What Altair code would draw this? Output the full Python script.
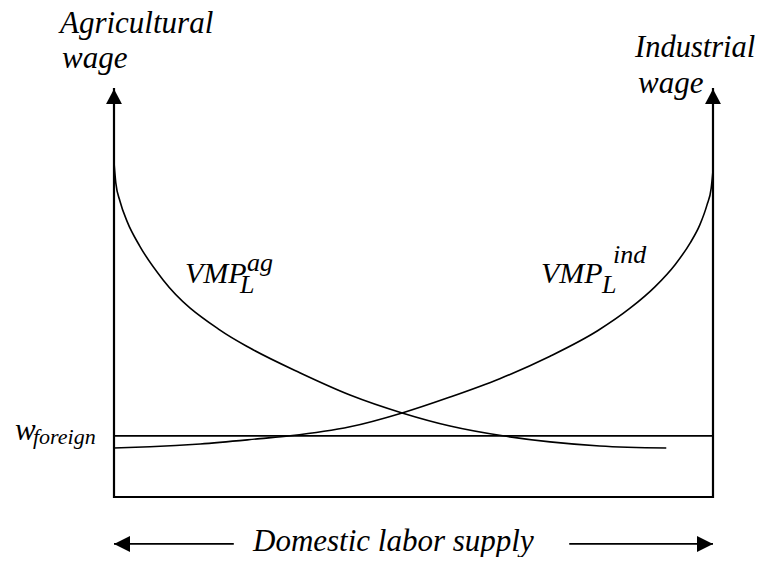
import altair as alt
import pandas as pd

# Curve data (labor share 0..100 on x, wage 0..100 on y)
ag_labor = [0, 0.3, 1.0, 2.2, 4.3, 8.2, 17.7, 22.7, 31.1, 39.4, 48.1, 56.1, 64.9, 72.8, 81.1, 92.2]
ag_wage = [82, 77, 72.5, 67.5, 61.5, 53.2, 40.9, 36.5, 30.4, 25.0, 20.6, 17.4, 15.0, 13.5, 12.5, 12.0]

ind_labor = [0, 6.0, 14.4, 24.4, 29.4, 39.4, 48.1, 56.1, 64.4, 72.8, 80.8, 86.1, 90.3, 93.7, 96.2, 97.8, 99.0, 99.7, 100]
ind_wage = [12.0, 12.3, 13.0, 14.3, 15.0, 17.2, 20.6, 24.5, 29.0, 34.5, 40.8, 46.2, 51.5, 57.0, 62.3, 66.7, 71.6, 75.7, 80.0]

w_foreign = 15.0
axis_top = 100
labor_min, labor_max = 0, 100
bottom_arrow_y = -11.5
left_arrow_end = 20.0
right_arrow_start = 76.0

W, H = 749, 549
xs = alt.Scale(domain=[-17.696, 107.346], nice=False, zero=False)
ys = alt.Scale(domain=[-14.71, 119.85], nice=False, zero=False)
X = lambda f: alt.X(f, type="quantitative", scale=xs, axis=None)
Y = lambda f: alt.Y(f, type="quantitative", scale=ys, axis=None)

ag_df = pd.DataFrame({"x": ag_labor, "y": ag_wage, "o": range(len(ag_labor))})
ind_df = pd.DataFrame({"x": ind_labor, "y": ind_wage, "o": range(len(ind_labor))})
frame_df = pd.DataFrame({"x": [labor_min, labor_min, labor_max, labor_max],
                         "y": [axis_top, 0, 0, axis_top], "o": [0, 1, 2, 3]})
wf_df = pd.DataFrame({"x": [labor_min, labor_max], "y": [w_foreign, w_foreign], "o": [0, 1]})
barrow_df = pd.DataFrame({"x": [labor_min, left_arrow_end, right_arrow_start, labor_max],
                          "y": [bottom_arrow_y] * 4, "g": ["l", "l", "r", "r"], "o": [0, 1, 2, 3]})

frame = alt.Chart(frame_df).mark_line(color="black", strokeWidth=2.2, strokeJoin="miter", strokeCap="square").encode(
    x=X("x"), y=Y("y"), order="o:Q")
ag = alt.Chart(ag_df).mark_line(color="black", strokeWidth=1.6, interpolate="monotone").encode(
    x=X("x"), y=Y("y"), order="o:Q")
ind = alt.Chart(ind_df).mark_line(color="black", strokeWidth=1.6, interpolate="monotone").encode(
    x=X("x"), y=Y("y"), order="o:Q")
wf = alt.Chart(wf_df).mark_line(color="black", strokeWidth=1.8).encode(
    x=X("x"), y=Y("y"), order="o:Q")
barrows = alt.Chart(barrow_df).mark_line(color="black", strokeWidth=1.6).encode(
    x=X("x"), y=Y("y"), detail="g:N", order="o:Q")

up_df = pd.DataFrame({"x": [labor_min, labor_max], "y": [axis_top, axis_top]})
heads_up = alt.Chart(up_df).mark_point(shape="M0,0L-0.53,1L0.53,1Z", filled=True, color="black",
                                       size=900, opacity=1, strokeWidth=0).encode(x=X("x"), y=Y("y"))
left_df = pd.DataFrame({"x": [labor_min], "y": [bottom_arrow_y]})
right_df = pd.DataFrame({"x": [labor_max], "y": [bottom_arrow_y]})
head_l = alt.Chart(left_df).mark_point(shape="M0,0L1,-0.5L1,0.5Z", filled=True, color="black",
                                       size=1024, opacity=1, strokeWidth=0).encode(x=X("x"), y=Y("y"))
head_r = alt.Chart(right_df).mark_point(shape="M0,0L-1,-0.5L-1,0.5Z", filled=True, color="black",
                                        size=1024, opacity=1, strokeWidth=0).encode(x=X("x"), y=Y("y"))

labels = [
    ("Agricultural", 52, 25, 31),
    ("wage", 54, 60, 31),
    ("Industrial", 627, 49, 30.5),
    ("wage", 630, 85, 31),
    ("VMP", 177, 275, 30),
    ("ag", 239, 263, 26),
    ("L", 232, 285, 26),
    ("VMP", 533, 275, 30),
    ("ind", 605, 255, 26),
    ("L", 594, 285, 26),
    ("w", 7, 432, 31),
    ("foreign", 25, 436, 22),
    ("Domestic labor supply", 245, 543, 31),
]

text_layers = []
for t, x, y, s in labels:
    text_layers.append(
        alt.Chart(pd.DataFrame({"t": [t]})).mark_text(
            font="Liberation Serif", fontStyle="italic", fontSize=s, align="left",
            baseline="alphabetic", color="black"
        ).encode(x=alt.value(x), y=alt.value(y), text="t:N")
    )

chart = alt.layer(frame, wf, ag, ind, barrows, heads_up, head_l, head_r, *text_layers).properties(
    width=W, height=H, padding=0, autosize=alt.AutoSizeParams(type="none")
).configure_view(stroke=None)

chart.save("out.html", embed_options={"renderer": "svg", "actions": False})
